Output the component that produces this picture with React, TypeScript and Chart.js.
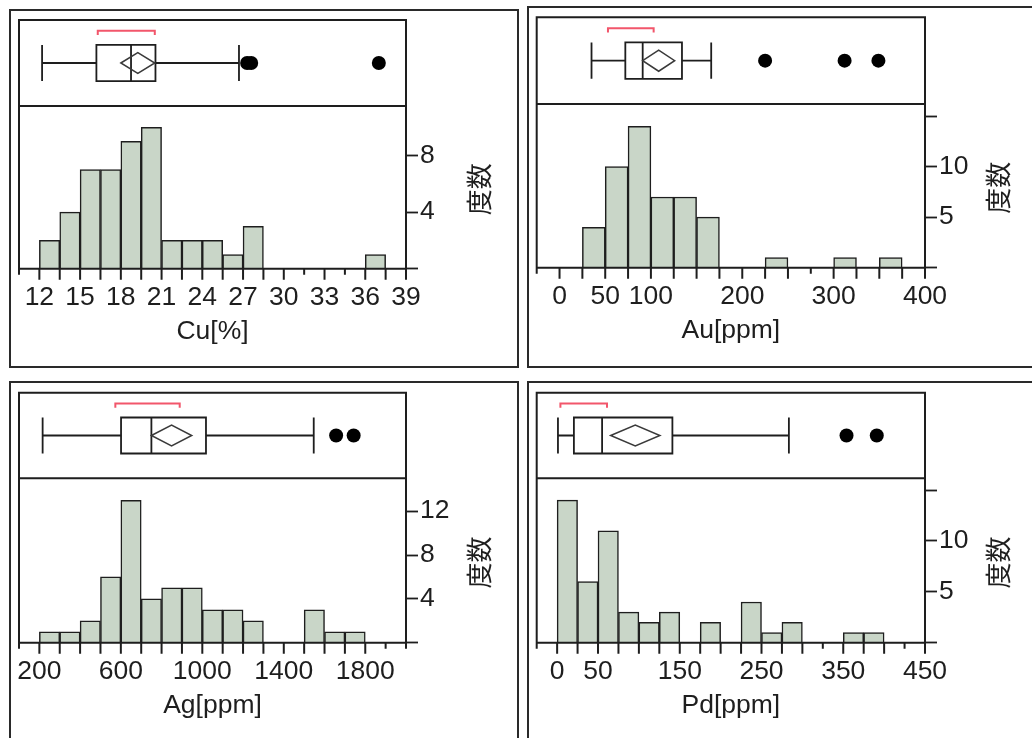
import React, { useEffect, useRef } from 'react';
import { Chart, registerables } from 'chart.js';

Chart.register(...registerables);

// ---------------- data ----------------
// Cu[%]
const cuBinStart = 12;
const cuBinWidth = 1.5;
const cuCounts = [2, 4, 7, 7, 9, 10, 2, 2, 2, 1, 3, 0, 0, 0, 0, 0, 1];
const cuXLabels = [12, 15, 18, 21, 24, 27, 30, 33, 36, 39];
const cuYLabels = [4, 8];
const cuBox = [12.2, 16.2, 18.75, 20.55, 26.7]; // whisker low, Q1, median, Q3, whisker high
const cuMeanDiamond = [18.0, 20.5];
const cuOutliers = [27.3, 27.6, 37.0];
const cuShortestHalf = [16.3, 20.5];

// Au[ppm]
const auBinStart = 25;
const auBinWidth = 25;
const auCounts = [4, 10, 14, 7, 7, 5, 0, 0, 1, 0, 0, 1, 0, 1];
const auXLabels = [0, 50, 100, 200, 300, 400];
const auYLabels = [5, 10];
const auBox = [35, 72, 91, 134, 166];
const auMeanDiamond = [91, 126];
const auOutliers = [225, 312, 349];
const auShortestHalf = [53, 103];

// Ag[ppm]
const agBinStart = 200;
const agBinWidth = 100;
const agCounts = [1, 1, 2, 6, 13, 4, 5, 5, 3, 3, 2, 0, 0, 3, 1, 1];
const agXLabels = [200, 600, 1000, 1400, 1800];
const agYLabels = [4, 8, 12];
const agBox = [216, 601, 750, 1018, 1547];
const agMeanDiamond = [750, 948];
const agOutliers = [1657, 1743];
const agShortestHalf = [573, 889];

// Pd[ppm]
const pdBinStart = 0;
const pdBinWidth = 25;
const pdCounts = [14, 6, 11, 3, 2, 3, 0, 2, 0, 4, 1, 2, 0, 0, 1, 1];
const pdXLabels = [0, 50, 150, 250, 350, 450];
const pdYLabels = [5, 10];
const pdBox = [1, 20.5, 55, 141, 283.5];
const pdMeanDiamond = [65.5, 125.7];
const pdOutliers = [354, 391];
const pdShortestHalf = [4, 61];

const yTitle = '度数';

// ---------------- styles ----------------
const INK = '#1e1e1e';
const FILL = '#c9d6c8';
const RED = '#f2566b';
const LATIN = "'Liberation Sans', Arial, Helvetica, sans-serif";
const CJK = "'Noto Sans CJK JP', 'Noto Sans CJK SC', sans-serif";
const FONT_SIZE = 26.5;

type Spec = {
  title: string;
  binStart: number;
  binWidth: number;
  counts: number[];
  xMin: number;
  xMax: number;
  xLabels: number[];
  yMax: number;
  yStep: number;
  yLabels: number[];
  box: number[];
  diamond: number[];
  outliers: number[];
  shortest: number[];
  frame: [number, number, number, number];
  canvas: [number, number, number, number];
  plot: { left: number; right: number; top: number; sep: number; base: number };
};

const specs: Spec[] = [
  {
    title: 'Cu[%]', binStart: cuBinStart, binWidth: cuBinWidth, counts: cuCounts,
    xMin: 10.5, xMax: 39, xLabels: cuXLabels, yMax: 11.5, yStep: 2, yLabels: cuYLabels,
    box: cuBox, diamond: cuMeanDiamond, outliers: cuOutliers, shortest: cuShortestHalf,
    frame: [9, 9, 519, 368], canvas: [11, 11, 506, 354],
    plot: { left: 19, right: 406, top: 20, sep: 106, base: 268.7 },
  },
  {
    title: 'Au[ppm]', binStart: auBinStart, binWidth: auBinWidth, counts: auCounts,
    xMin: -25, xMax: 400, xLabels: auXLabels, yMax: 16.2, yStep: 2.5, yLabels: auYLabels,
    box: auBox, diamond: auMeanDiamond, outliers: auOutliers, shortest: auShortestHalf,
    frame: [527, 6, 1045, 368], canvas: [529, 8, 503, 356],
    plot: { left: 536.7, right: 925, top: 17.3, sep: 104, base: 267.7 },
  },
  {
    title: 'Ag[ppm]', binStart: agBinStart, binWidth: agBinWidth, counts: agCounts,
    xMin: 100, xMax: 2000, xLabels: agXLabels, yMax: 15.0, yStep: 2, yLabels: agYLabels,
    box: agBox, diamond: agMeanDiamond, outliers: agOutliers, shortest: agShortestHalf,
    frame: [9, 381, 519, 760], canvas: [11, 383, 506, 355],
    plot: { left: 19, right: 406, top: 392.7, sep: 478.3, base: 642.7 },
  },
  {
    title: 'Pd[ppm]', binStart: pdBinStart, binWidth: pdBinWidth, counts: pdCounts,
    xMin: -25, xMax: 450, xLabels: pdXLabels, yMax: 16.15, yStep: 2.5, yLabels: pdYLabels,
    box: pdBox, diamond: pdMeanDiamond, outliers: pdOutliers, shortest: pdShortestHalf,
    frame: [527, 381, 1045, 760], canvas: [529, 383, 503, 355],
    plot: { left: 536.7, right: 925, top: 392.7, sep: 478.3, base: 642.7 },
  },
];

const near = (list: number[], v: number) => list.find((l) => Math.abs(l - v) < 1e-6);

const zeroPad = (s: any) => {
  s.paddingTop = 0;
  s.paddingBottom = 0;
  s.paddingLeft = 0;
  s.paddingRight = 0;
};

function makeConfig(spec: Spec): any {
  const [cl, ct, cw, ch] = spec.canvas;
  const p = spec.plot;
  const W = cl + cw - p.right;
  const H = ct + ch - p.base;
  const lineH = FONT_SIZE * 1.2;

  const bars = spec.counts
    .map((c, i) => ({ x: spec.binStart + (i + 0.5) * spec.binWidth, y: c }))
    .filter((d) => d.y > 0);

  const edges: number[] = [];
  spec.counts.forEach((c, i) => {
    if (c > 0) {
      edges.push(spec.binStart + i * spec.binWidth, spec.binStart + (i + 1) * spec.binWidth);
    }
  });

  const decor = {
    id: 'panelDecor',
    afterDatasetsDraw(chart: any) {
      const { ctx, chartArea } = chart;
      const x = chart.scales.x;
      const yb = chart.scales.yb;
      const y = chart.scales.y;
      const L = chartArea.left;
      const R = chartArea.right;
      const T = chartArea.top;
      const base = y.getPixelForValue(0);
      const sep = yb.bottom;
      ctx.save();
      ctx.strokeStyle = INK;
      ctx.lineWidth = 2;
      ctx.lineCap = 'butt';
      ctx.beginPath();
      ctx.moveTo(L, base);
      ctx.lineTo(L, T);
      ctx.lineTo(R, T);
      ctx.lineTo(R, base);
      ctx.moveTo(L, sep);
      ctx.lineTo(R, sep);
      ctx.moveTo(L - 1, base);
      ctx.lineTo(R + 1, base);
      // x tick marks
      for (const t of x.ticks) {
        const px = x.getPixelForValue(t.value);
        const long = near(spec.xLabels, t.value) !== undefined || near(edges, t.value) !== undefined;
        ctx.moveTo(px, base);
        ctx.lineTo(px, base + (long ? 11 : 6));
      }
      ctx.stroke();

      // box plot
      const cy = yb.getPixelForValue(0.5);
      const bTop = yb.getPixelForValue(0.71);
      const bBot = yb.getPixelForValue(0.29);
      const [wLo, q1, med, q3, wHi] = spec.box;
      const px = (v: number) => x.getPixelForValue(v);
      ctx.lineWidth = 1.8;
      ctx.strokeStyle = INK;
      ctx.beginPath();
      ctx.moveTo(px(wLo), cy);
      ctx.lineTo(px(q1), cy);
      ctx.moveTo(px(q3), cy);
      ctx.lineTo(px(wHi), cy);
      ctx.moveTo(px(wLo), bTop);
      ctx.lineTo(px(wLo), bBot);
      ctx.moveTo(px(wHi), bTop);
      ctx.lineTo(px(wHi), bBot);
      ctx.rect(px(q1), bTop, px(q3) - px(q1), bBot - bTop);
      ctx.moveTo(px(med), bTop);
      ctx.lineTo(px(med), bBot);
      ctx.stroke();

      // mean diamond
      const dTop = yb.getPixelForValue(0.622);
      const dBot = yb.getPixelForValue(0.378);
      const dL = px(spec.diamond[0]);
      const dR = px(spec.diamond[1]);
      const dC = (dL + dR) / 2;
      ctx.strokeStyle = '#3a3a3a';
      ctx.lineWidth = 1.5;
      ctx.beginPath();
      ctx.moveTo(dL, cy);
      ctx.lineTo(dC, dTop);
      ctx.lineTo(dR, cy);
      ctx.lineTo(dC, dBot);
      ctx.closePath();
      ctx.stroke();

      // outliers
      ctx.fillStyle = '#000';
      for (const o of spec.outliers) {
        ctx.beginPath();
        ctx.arc(px(o), cy, 7, 0, Math.PI * 2);
        ctx.fill();
      }

      // shortest half bracket
      const brY = yb.getPixelForValue(0.875);
      const brY2 = yb.getPixelForValue(0.825);
      ctx.strokeStyle = RED;
      ctx.lineWidth = 2;
      ctx.beginPath();
      ctx.moveTo(px(spec.shortest[0]), brY2);
      ctx.lineTo(px(spec.shortest[0]), brY);
      ctx.lineTo(px(spec.shortest[1]), brY);
      ctx.lineTo(px(spec.shortest[1]), brY2);
      ctx.stroke();
      ctx.restore();
    },
    afterDraw(chart: any) {
      const { ctx, chartArea } = chart;
      const y = chart.scales.y;
      ctx.save();
      ctx.translate(chartArea.right + 73, (y.top + y.bottom) / 2 + 2);
      ctx.rotate(-Math.PI / 2);
      ctx.fillStyle = INK;
      ctx.font = `26px ${CJK}`;
      ctx.textAlign = 'center';
      ctx.textBaseline = 'middle';
      ctx.fillText(yTitle, 0, 0);
      ctx.restore();
    },
  };

  return {
    type: 'bar',
    data: {
      datasets: [
        {
          data: bars,
          xAxisID: 'x',
          yAxisID: 'y',
          backgroundColor: FILL,
          borderColor: INK,
          borderWidth: 1.5,
          barPercentage: 1,
          categoryPercentage: 1,
        },
      ],
    },
    options: {
      animation: false,
      responsive: false,
      maintainAspectRatio: false,
      layout: { padding: { left: p.left - cl, top: p.top - ct, right: 0, bottom: 0 } },
      plugins: { legend: { display: false }, tooltip: { enabled: false } },
      scales: {
        x: {
          type: 'linear',
          position: 'bottom',
          min: spec.xMin,
          max: spec.xMax,
          offset: false,
          grid: { display: false, drawTicks: false, offset: false },
          border: { display: false },
          ticks: {
            stepSize: spec.binWidth,
            autoSkip: false,
            maxRotation: 0,
            minRotation: 0,
            includeBounds: false,
            padding: 12.9,
            color: INK,
            font: { family: LATIN, size: FONT_SIZE },
            callback: (v: any) => {
              const hit = near(spec.xLabels, Number(v));
              return hit === undefined ? '' : String(hit);
            },
          },
          title: {
            display: true,
            text: spec.title,
            color: INK,
            font: { family: LATIN, size: FONT_SIZE },
            padding: { top: 0, bottom: H - 63 - lineH / 2 },
          },
          afterFit: (s: any) => {
            s.height = H;
            zeroPad(s);
          },
        },
        yb: {
          type: 'linear',
          position: 'right',
          stack: 'panel',
          stackWeight: p.sep - p.top,
          weight: 0,
          min: 0,
          max: 1,
          grid: { display: false, drawTicks: false },
          border: { display: false },
          ticks: { display: false },
          afterFit: (s: any) => {
            s.width = W;
            zeroPad(s);
          },
        },
        y: {
          type: 'linear',
          position: 'right',
          stack: 'panel',
          stackWeight: p.base - p.sep,
          weight: 1,
          min: 0,
          max: spec.yMax,
          grid: {
            display: true,
            drawOnChartArea: false,
            drawTicks: true,
            tickLength: 12,
            tickColor: INK,
            tickWidth: 1.8,
          },
          border: { display: false },
          ticks: {
            stepSize: spec.yStep,
            includeBounds: false,
            padding: 2,
            color: INK,
            font: { family: LATIN, size: FONT_SIZE },
            callback: (v: any) => {
              const hit = near(spec.yLabels, Number(v));
              return hit === undefined ? '' : String(hit);
            },
          },
          afterFit: (s: any) => {
            s.width = W;
            zeroPad(s);
          },
        },
      },
    },
    plugins: [decor],
  };
}

function Panel({ spec }: { spec: Spec }) {
  const ref = useRef<HTMLCanvasElement>(null);
  useEffect(() => {
    const chart = new Chart(ref.current as HTMLCanvasElement, makeConfig(spec));
    return () => chart.destroy();
  }, [spec]);
  const [fl, ft, fr, fb] = spec.frame;
  const [cl, ct, cw, ch] = spec.canvas;
  return (
    <>
      <div
        style={{
          position: 'absolute',
          left: fl,
          top: ft,
          width: fr - fl,
          height: fb - ft,
          border: '2px solid #2a2a2a',
          boxSizing: 'border-box',
        }}
      />
      <canvas
        ref={ref}
        width={cw}
        height={ch}
        style={{ position: 'absolute', left: cl, top: ct, width: cw, height: ch }}
      />
    </>
  );
}

export default function App() {
  return (
    <div
      style={{
        position: 'absolute',
        left: 0,
        top: 0,
        width: 1032,
        height: 738,
        overflow: 'hidden',
        background: '#ffffff',
      }}
    >
      {specs.map((s) => (
        <Panel key={s.title} spec={s} />
      ))}
    </div>
  );
}
